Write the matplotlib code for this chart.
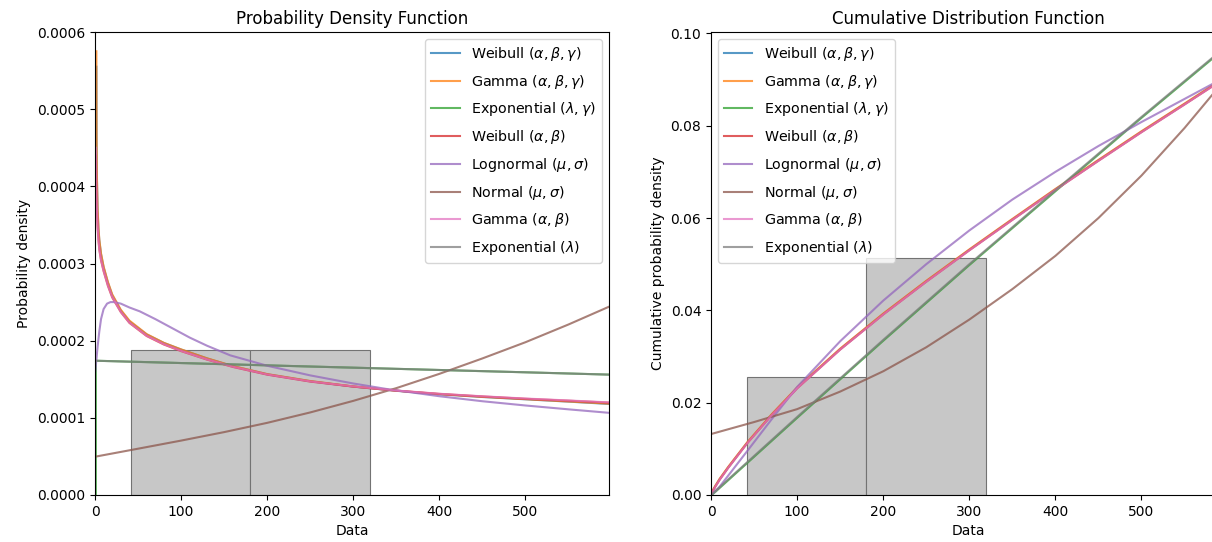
import matplotlib
matplotlib.use("Agg")
import matplotlib.pyplot as plt

# legend labels, in plotting order
labels = [r"Weibull ($\alpha,\beta,\gamma$)", r"Gamma ($\alpha,\beta,\gamma$)",
          r"Exponential ($\lambda,\gamma$)", r"Weibull ($\alpha,\beta$)",
          r"Lognormal ($\mu,\sigma$)", r"Normal ($\mu,\sigma$)",
          r"Gamma ($\alpha,\beta$)", r"Exponential ($\lambda$)"]

# histogram of the data
bin_left = [42, 180.5]
bin_width = [138.5, 138.5]
hist_pdf = [0.000188, 0.000188]
hist_cdf = [0.0256, 0.0514]

# ---- PDF values (units of 1e-4) ----
w3_x = [1.6, 1.8, 2.2, 3, 4, 5, 7, 10, 15, 20, 30, 40, 60, 80, 100, 130, 160,
        200, 250, 300, 350, 400, 450, 500, 550, 597]
w3_pdf = [5.55, 4.6, 4.1, 3.7, 3.45, 3.3, 3.12, 2.95, 2.75, 2.59, 2.39,
          2.25, 2.08, 1.97, 1.885, 1.77, 1.67, 1.565, 1.475, 1.405, 1.35, 1.305,
          1.27, 1.24, 1.21, 1.18]
g3_pdf = [5.75, 4.7, 4.15, 3.72, 3.47, 3.31, 3.13, 2.96, 2.76, 2.6, 2.4,
          2.26, 2.085, 1.972, 1.887, 1.772, 1.672, 1.567, 1.477, 1.407, 1.352,
          1.307, 1.272, 1.242, 1.212, 1.184]
w2_x = [1, 1.5, 2, 3, 4, 5, 7, 10, 15, 20, 30, 40, 60, 80, 100, 130, 160,
        200, 250, 300, 350, 400, 450, 500, 550, 597]
w2_pdf = [4.4, 4.0, 3.75, 3.48, 3.3, 3.18, 3.04, 2.9, 2.71, 2.56, 2.37, 2.23,
          2.06, 1.95, 1.865, 1.755, 1.66, 1.56, 1.47, 1.405, 1.352, 1.31, 1.277,
          1.247, 1.222, 1.197]
g2_pdf = [4.5, 4.05, 3.78, 3.5, 3.32, 3.19, 3.05, 2.91, 2.72, 2.57, 2.375, 2.235,
          2.065, 1.955, 1.868, 1.758, 1.663, 1.562, 1.472, 1.407, 1.354, 1.312,
          1.279, 1.25, 1.225, 1.2]
exp_x = [0, 100, 200, 300, 400, 500, 597]
exp_pdf = [1.74, 1.71, 1.68, 1.65, 1.62, 1.59, 1.56]
exp3_x = [1, 1, 100, 200, 300, 400, 500, 597]
exp3_pdf = [0, 1.74, 1.71, 1.68, 1.65, 1.62, 1.59, 1.56]
logn_x = [0.3, 1, 2, 3, 5, 7, 10, 14, 18, 22, 30, 40, 52, 70, 90, 110, 130, 157,
          200, 250, 300, 338, 400, 450, 500, 550, 597]
logn_pdf = [1.6, 1.68, 1.8, 1.92, 2.12, 2.28, 2.41, 2.48, 2.5, 2.5, 2.48, 2.43,
            2.38, 2.28, 2.16, 2.04, 1.935, 1.81, 1.675, 1.55, 1.445, 1.375, 1.28,
            1.215, 1.16, 1.11, 1.065]
norm_x = [0, 50, 100, 150, 200, 250, 300, 350, 400, 450, 500, 550, 597]
norm_pdf = [0.496, 0.6, 0.705, 0.815, 0.935, 1.07, 1.22, 1.385, 1.57, 1.77, 1.98,
            2.21, 2.44]

# ---- CDF values ----
heavy_cx = [0, 2, 5, 10, 20, 42, 70, 100, 150, 200, 250, 300, 350, 400, 450,
            500, 550, 597]
w3_cdf = [0, 0.0009, 0.0019, 0.0034, 0.006, 0.0113, 0.0173, 0.0232, 0.0316,
          0.0392, 0.0463, 0.0531, 0.0597, 0.0662, 0.0725, 0.0787, 0.0847, 0.0904]
g3_cdf = [0, 0.001, 0.002, 0.0035, 0.0061, 0.0114, 0.0174, 0.0233, 0.0317,
          0.0393, 0.0464, 0.0532, 0.0598, 0.0663, 0.0726, 0.0788, 0.0848, 0.0905]
w2_cdf = [0, 0.0008, 0.0018, 0.0033, 0.0059, 0.0112, 0.0172, 0.0231, 0.0315,
          0.0391, 0.0462, 0.053, 0.0596, 0.0661, 0.0724, 0.0786, 0.0846, 0.0903]
g2_cdf = [0, 0.0008, 0.0018, 0.0033, 0.0059, 0.0112, 0.0172, 0.0231, 0.0315,
          0.0391, 0.0462, 0.053, 0.0596, 0.0661, 0.0724, 0.0786, 0.0846, 0.0903]
exp_cdf = [0, 0.0169, 0.0336, 0.05, 0.066, 0.0819, 0.097]
exp3_cx = [1, 100, 200, 300, 400, 500, 597]
exp3_cdf = [0, 0.0167, 0.0334, 0.0498, 0.0658, 0.0817, 0.0968]
logn_cx = [0, 5, 10, 20, 42, 70, 100, 150, 200, 250, 300, 350, 400, 450, 500,
           550, 597]
logn_cdf = [0, 0.0008, 0.0018, 0.0042, 0.0095, 0.0163, 0.0234, 0.0333, 0.0421,
            0.05, 0.0573, 0.064, 0.07, 0.0756, 0.0808, 0.0858, 0.0905]
norm_cdf = [0.0132, 0.0158, 0.0186, 0.0224, 0.0268, 0.032, 0.038, 0.0446,
            0.0518, 0.06, 0.0692, 0.0795, 0.09]

pdf_series = [(w3_x, w3_pdf), (w3_x, g3_pdf), (exp3_x, exp3_pdf), (w2_x, w2_pdf),
              (logn_x, logn_pdf), (norm_x, norm_pdf), (w2_x, g2_pdf), (exp_x, exp_pdf)]
cdf_series = [(heavy_cx, w3_cdf), (heavy_cx, g3_cdf), (exp3_cx, exp3_cdf),
              (heavy_cx, w2_cdf), (logn_cx, logn_cdf), (norm_x, norm_cdf),
              (heavy_cx, g2_cdf), (exp_x, exp_cdf)]

fig = plt.figure(figsize=(12.12, 5.42), dpi=100)
ax1 = fig.add_axes([95 / 1212, 47 / 542, 514 / 1212, 463 / 542])
ax2 = fig.add_axes([711 / 1212, 47 / 542, 514 / 1212, 463 / 542])

# left: PDF
ax1.bar(bin_left, hist_pdf, width=bin_width, align="edge", color="0.78",
        edgecolor="0.45", linewidth=0.8)
for (x, y), lab in zip(pdf_series, labels):
    ax1.plot(x, [v * 1e-4 for v in y], label=lab, alpha=0.75, lw=1.5)
ax1.set_xlim(0, 597)
ax1.set_ylim(0, 0.0006)
ax1.set_yticks([0, 0.0001, 0.0002, 0.0003, 0.0004, 0.0005, 0.0006])
ax1.set_yticklabels(["0.0000", "0.0001", "0.0002", "0.0003", "0.0004", "0.0005", "0.0006"])
ax1.set_title("Probability Density Function")
ax1.set_xlabel("Data")
ax1.set_ylabel("Probability density")
ax1.legend(loc="upper right", fontsize=10.3, labelspacing=0.68)

# right: CDF
ax2.bar(bin_left, hist_cdf, width=bin_width, align="edge", color="0.78",
        edgecolor="0.45", linewidth=0.8)
for (x, y), lab in zip(cdf_series, labels):
    ax2.plot(x, y, label=lab, alpha=0.75, lw=1.5)
ax2.set_xlim(0, 597)
ax2.set_ylim(0, 0.1003)
ax2.set_title("Cumulative Distribution Function")
ax2.set_xlabel("Data")
ax2.set_ylabel("Cumulative probability density")
ax2.legend(loc="upper left", fontsize=10.3, labelspacing=0.68)

fig.savefig("out.png", dpi=100)
